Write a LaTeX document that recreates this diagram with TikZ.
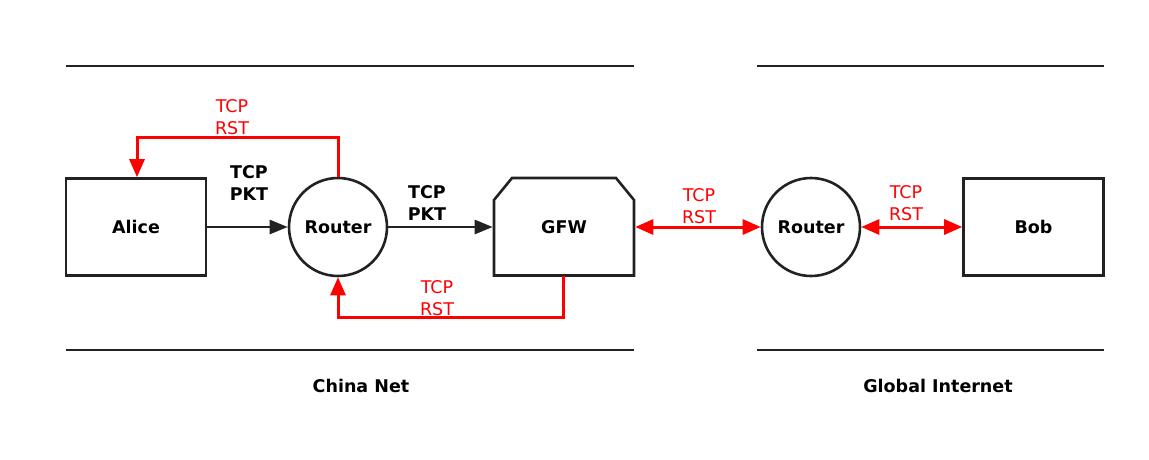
\documentclass[tikz,border=0pt]{standalone}
\usepackage{fontspec}
\setmainfont{DejaVu Sans}
\usetikzlibrary{arrows.meta}
\definecolor{rstred}{RGB}{255,0,0}
\definecolor{ink}{RGB}{34,34,34}
\begin{document}
\begin{tikzpicture}[x=1pt, y=-1pt,
    txt/.style={font=\fontsize{17.5}{22}\selectfont, align=center, inner sep=0pt},
    box/.style={draw=ink, line width=2.6pt, minimum width=140pt, minimum height=97pt,
      font=\fontsize{17.5}{22}\selectfont\bfseries, inner sep=0pt},
    router/.style={draw=ink, line width=2.6pt, circle, minimum size=98pt,
      font=\fontsize{17.5}{22}\selectfont\bfseries, inner sep=0pt},
    pkt/.style={draw=ink, line width=2.6pt, -{Triangle[length=18pt, width=14pt]}},
    rst/.style={draw=rstred, line width=3pt, -{Triangle[length=18pt, width=15pt]}},
    rstboth/.style={rst, {Triangle[length=18pt, width=15pt]}-{Triangle[length=18pt, width=15pt]}},
    rstlbl/.style={txt, text=rstred},
    pktlbl/.style={txt, font=\fontsize{17.5}{22}\selectfont\bfseries},
    border/.style={draw=ink, line width=2.6pt}]
  \useasboundingbox (0,0) rectangle (1149,459);

  % network borders
  \draw[border] (66,66) -- (634,66);
  \draw[border] (66,350) -- (634,350);
  \draw[border] (757,66) -- (1104,66);
  \draw[border] (757,350) -- (1104,350);
  \node[pktlbl] (china) at (361,386) {China Net};
  \node[pktlbl] (global) at (938,386) {Global Internet};

  % nodes
  \node[box] (alice) at (136,227) {Alice};
  \node[router] (r1) at (338,227) {Router};
  \node[box, draw=none, outer sep=1.3pt] (gfw) at (564,227) {GFW};
  \draw[ink, line width=2.6pt, line join=miter]
    (494,275.5) -- (494,200) -- (512,178) -- (616,178) -- (634,200)
    -- (634,275.5) -- cycle;
  \node[router] (r2) at (811,227) {Router};
  \node[box] (bob) at (1033.5,227) {Bob};

  % packets
  \draw[pkt] (alice) -- (r1);
  \draw[pkt] (r1) -- (gfw);
  \node[pktlbl] (pkt1) at (249,183) {TCP\\PKT};
  \node[pktlbl] (pkt2) at (427,203) {TCP\\PKT};

  % resets
  \draw[rst] (r1.north) -- (338,137) -- (137,137) -- (alice.north -| 137,0);
  \draw[rst] (563,275.5) -- (563,317) -- (338,317) -- (r1.south);
  \draw[rstboth] (gfw.east) -- (r2);
  \draw[rstboth] (r2) -- (bob);
  \node[rstlbl] (rst1) at (232,117) {TCP\\RST};
  \node[rstlbl] (rst2) at (437,298) {TCP\\RST};
  \node[rstlbl] (rst3) at (699,206) {TCP\\RST};
  \node[rstlbl] (rst4) at (906,203) {TCP\\RST};
\end{tikzpicture}
\end{document}
